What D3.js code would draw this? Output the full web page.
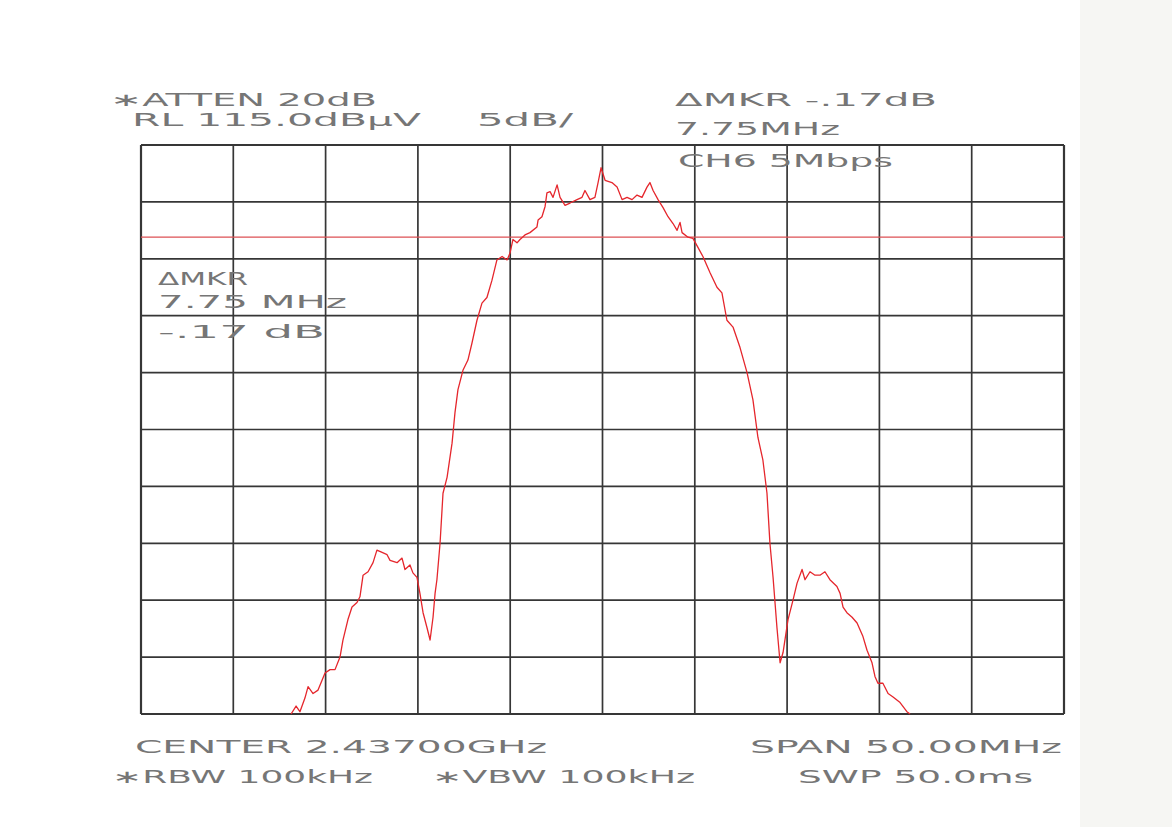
<!DOCTYPE html>
<html>
<head>
<meta charset="utf-8">
<script src="https://cdn.jsdelivr.net/npm/d3@7"></script>
<style>
  html, body { margin: 0; padding: 0; background: #ffffff; }
  svg { display: block; }
  text { font-family: "DejaVu Sans", sans-serif; fill: #767676; }
</style>
</head>
<body>
<svg id="chart" width="1172" height="827"></svg>
<script>
// Spectrum analyzer sweep: CH6, 5 Mbps, centre 2.437 GHz, span 50 MHz
const centerMHz = 2437;
const spanMHz = 50;
const refLevel = 115;      // dBµV, top of screen
const dbPerDiv = 5;
const divisions = 10;
const displayLine = 106.9; // dBµV

// frequency offset from centre (MHz)
const offsetMHz = [
  -16.87, -16.60, -16.39, -16.12, -15.95, -15.68, -15.41, -15.03, -14.76, -14.49,
  -14.22, -14.06, -13.79, -13.57, -13.30, -13.14, -12.97, -12.70, -12.43, -12.22,
  -11.94, -11.67, -11.51, -11.13, -10.86, -10.70, -10.43, -10.27, -10.05, -9.89,
  -9.72, -9.51, -9.34, -9.18, -9.07, -8.97, -8.80, -8.64, -8.42, -8.15,
  -7.99, -7.83, -7.56, -7.29, -7.07, -6.80, -6.53, -6.26, -5.99, -5.72,
  -5.44, -5.17, -5.01, -4.85, -4.63, -4.47, -4.20, -3.93, -3.55, -3.49,
  -3.28, -3.11, -3.01, -2.84, -2.68, -2.46, -2.30, -2.03, -1.76, -1.38,
  -1.11, -0.95, -0.68, -0.41, -0.24, -0.08, 0.14, 0.51, 0.79, 1.06,
  1.33, 1.60, 1.87, 2.14, 2.41, 2.57, 2.74, 3.01, 3.28, 3.55,
  3.82, 4.04, 4.20, 4.31, 4.63, 4.90, 5.17, 5.44, 5.82, 6.20,
  6.47, 6.74, 7.07, 7.45, 7.83, 8.15, 8.42, 8.69, 8.91, 9.07,
  9.24, 9.45, 9.62, 9.78, 10.05, 10.32, 10.54, 10.81, 10.97, 11.24,
  11.51, 11.78, 12.05, 12.32, 12.70, 12.87, 13.03, 13.24, 13.52, 13.79,
  13.95, 14.11, 14.33, 14.60, 14.76, 14.92, 15.19, 15.47, 15.74, 16.12,
  16.49, 16.66
];

// measured level (dBµV)
const levelDb = [
  65.0, 65.7, 65.2, 66.4, 67.4, 66.8, 67.1, 68.6, 68.9, 68.9,
  70.0, 71.5, 73.3, 74.4, 74.8, 75.3, 77.2, 77.5, 78.3, 79.4,
  79.2, 79.0, 78.5, 78.3, 78.7, 77.7, 78.1, 77.4, 77.0, 75.6,
  73.9, 72.6, 71.5, 73.5, 75.6, 76.8, 80.0, 84.4, 85.8, 88.8,
  91.5, 93.5, 95.2, 96.1, 97.6, 99.6, 101.1, 101.6, 103.1, 104.9,
  105.2, 104.9, 105.5, 106.7, 106.4, 106.7, 107.1, 107.3, 107.8, 108.4,
  108.7, 109.6, 110.8, 110.9, 110.4, 111.5, 110.4, 109.7, 109.9, 110.2,
  110.4, 111.0, 110.2, 110.4, 111.7, 113.0, 111.9, 111.7, 111.3, 110.2,
  110.4, 110.2, 110.6, 110.4, 111.3, 111.7, 111.0, 110.2, 109.5, 108.7,
  108.1, 107.5, 108.2, 107.3, 106.9, 106.8, 106.0, 105.2, 103.8, 102.5,
  102.0, 99.6, 99.0, 97.2, 95.0, 92.6, 89.3, 87.3, 84.4, 80.0,
  77.0, 72.6, 69.5, 70.4, 73.3, 75.0, 76.5, 77.7, 76.8, 77.5,
  77.2, 77.2, 77.5, 76.8, 76.2, 75.6, 74.4, 73.9, 73.5, 73.0,
  72.4, 71.8, 70.6, 69.5, 68.3, 67.7, 67.7, 66.8, 66.5, 66.0,
  65.2, 65.0
];

// annotation text: [string, left x, baseline y, drawn width]
const annotations = [
  ["\u2217ATTEN 20dB",        110, 106, 267],
  ["RL 115.0dB\u00b5V",       132, 126, 289],
  ["5dB/",                    477, 126,  96],
  ["\u0394MKR -.17dB",        675, 106, 262],
  ["7.75MHz",                 675, 135, 165],
  ["CH6 5Mbps",               678, 167, 215],
  ["\u0394MKR",               158, 285,  90],
  ["7.75 MHz",                158, 308, 189],
  ["-.17 dB",                 158, 338, 167],
  ["CENTER 2.43700GHz",       135, 753, 412],
  ["SPAN 50.00MHz",           750, 753, 312],
  ["\u2217RBW 100kHz",        112, 783, 261],
  ["\u2217VBW 100kHz",        432, 783, 263],
  ["SWP 50.0ms",              798, 783, 235]
];

const svg = d3.select("#chart");
const plot = { left: 141, right: 1064, top: 145, bottom: 714 };

// paper tone strip on the right edge
svg.append("rect").attr("x", 1080).attr("y", 0).attr("width", 92).attr("height", 827)
  .attr("fill", "#f6f6f3");

const x = d3.scaleLinear()
  .domain([centerMHz - spanMHz / 2, centerMHz + spanMHz / 2])
  .range([plot.left, plot.right]);
const y = d3.scaleLinear()
  .domain([refLevel - dbPerDiv * divisions, refLevel])
  .range([plot.bottom, plot.top])
  .clamp(true);

// graticule
const g = svg.append("g");
const freqLines = d3.range(divisions + 1).map(i => x.domain()[0] + i * spanMHz / divisions);
const levelLines = d3.range(divisions + 1).map(i => y.domain()[0] + i * dbPerDiv);

g.selectAll("line.v").data(freqLines).join("line")
  .attr("x1", d => x(d)).attr("x2", d => x(d))
  .attr("y1", plot.top).attr("y2", plot.bottom)
  .attr("stroke", "#363636")
  .attr("stroke-width", (d, i) => (i === 0 || i === divisions) ? 2.2 : 1.7);

g.selectAll("line.h").data(levelLines).join("line")
  .attr("x1", plot.left).attr("x2", plot.right)
  .attr("y1", d => y(d)).attr("y2", d => y(d))
  .attr("stroke", "#363636")
  .attr("stroke-width", (d, i) => (i === 0 || i === divisions) ? 2.2 : 1.7);

// display line
svg.append("line")
  .attr("x1", plot.left).attr("x2", plot.right)
  .attr("y1", y(displayLine)).attr("y2", y(displayLine))
  .attr("stroke", "#dd5054").attr("stroke-width", 1.2);

// trace
const trace = offsetMHz.map((o, i) => ({ f: centerMHz + o, db: levelDb[i] }));
svg.append("path")
  .datum(trace)
  .attr("fill", "none")
  .attr("stroke", "#e5262c")
  .attr("stroke-width", 1.3)
  .attr("stroke-linejoin", "round")
  .attr("d", d3.line().x(d => x(d.f)).y(d => y(d.db)));

// screen annotations
svg.selectAll("text.ann").data(annotations).join("text")
  .attr("class", "ann")
  .attr("x", d => d[1]).attr("y", d => d[2])
  .attr("textLength", d => d[3])
  .attr("lengthAdjust", "spacingAndGlyphs")
  .style("font-size", "18px")
  .text(d => d[0]);
</script>
</body>
</html>
